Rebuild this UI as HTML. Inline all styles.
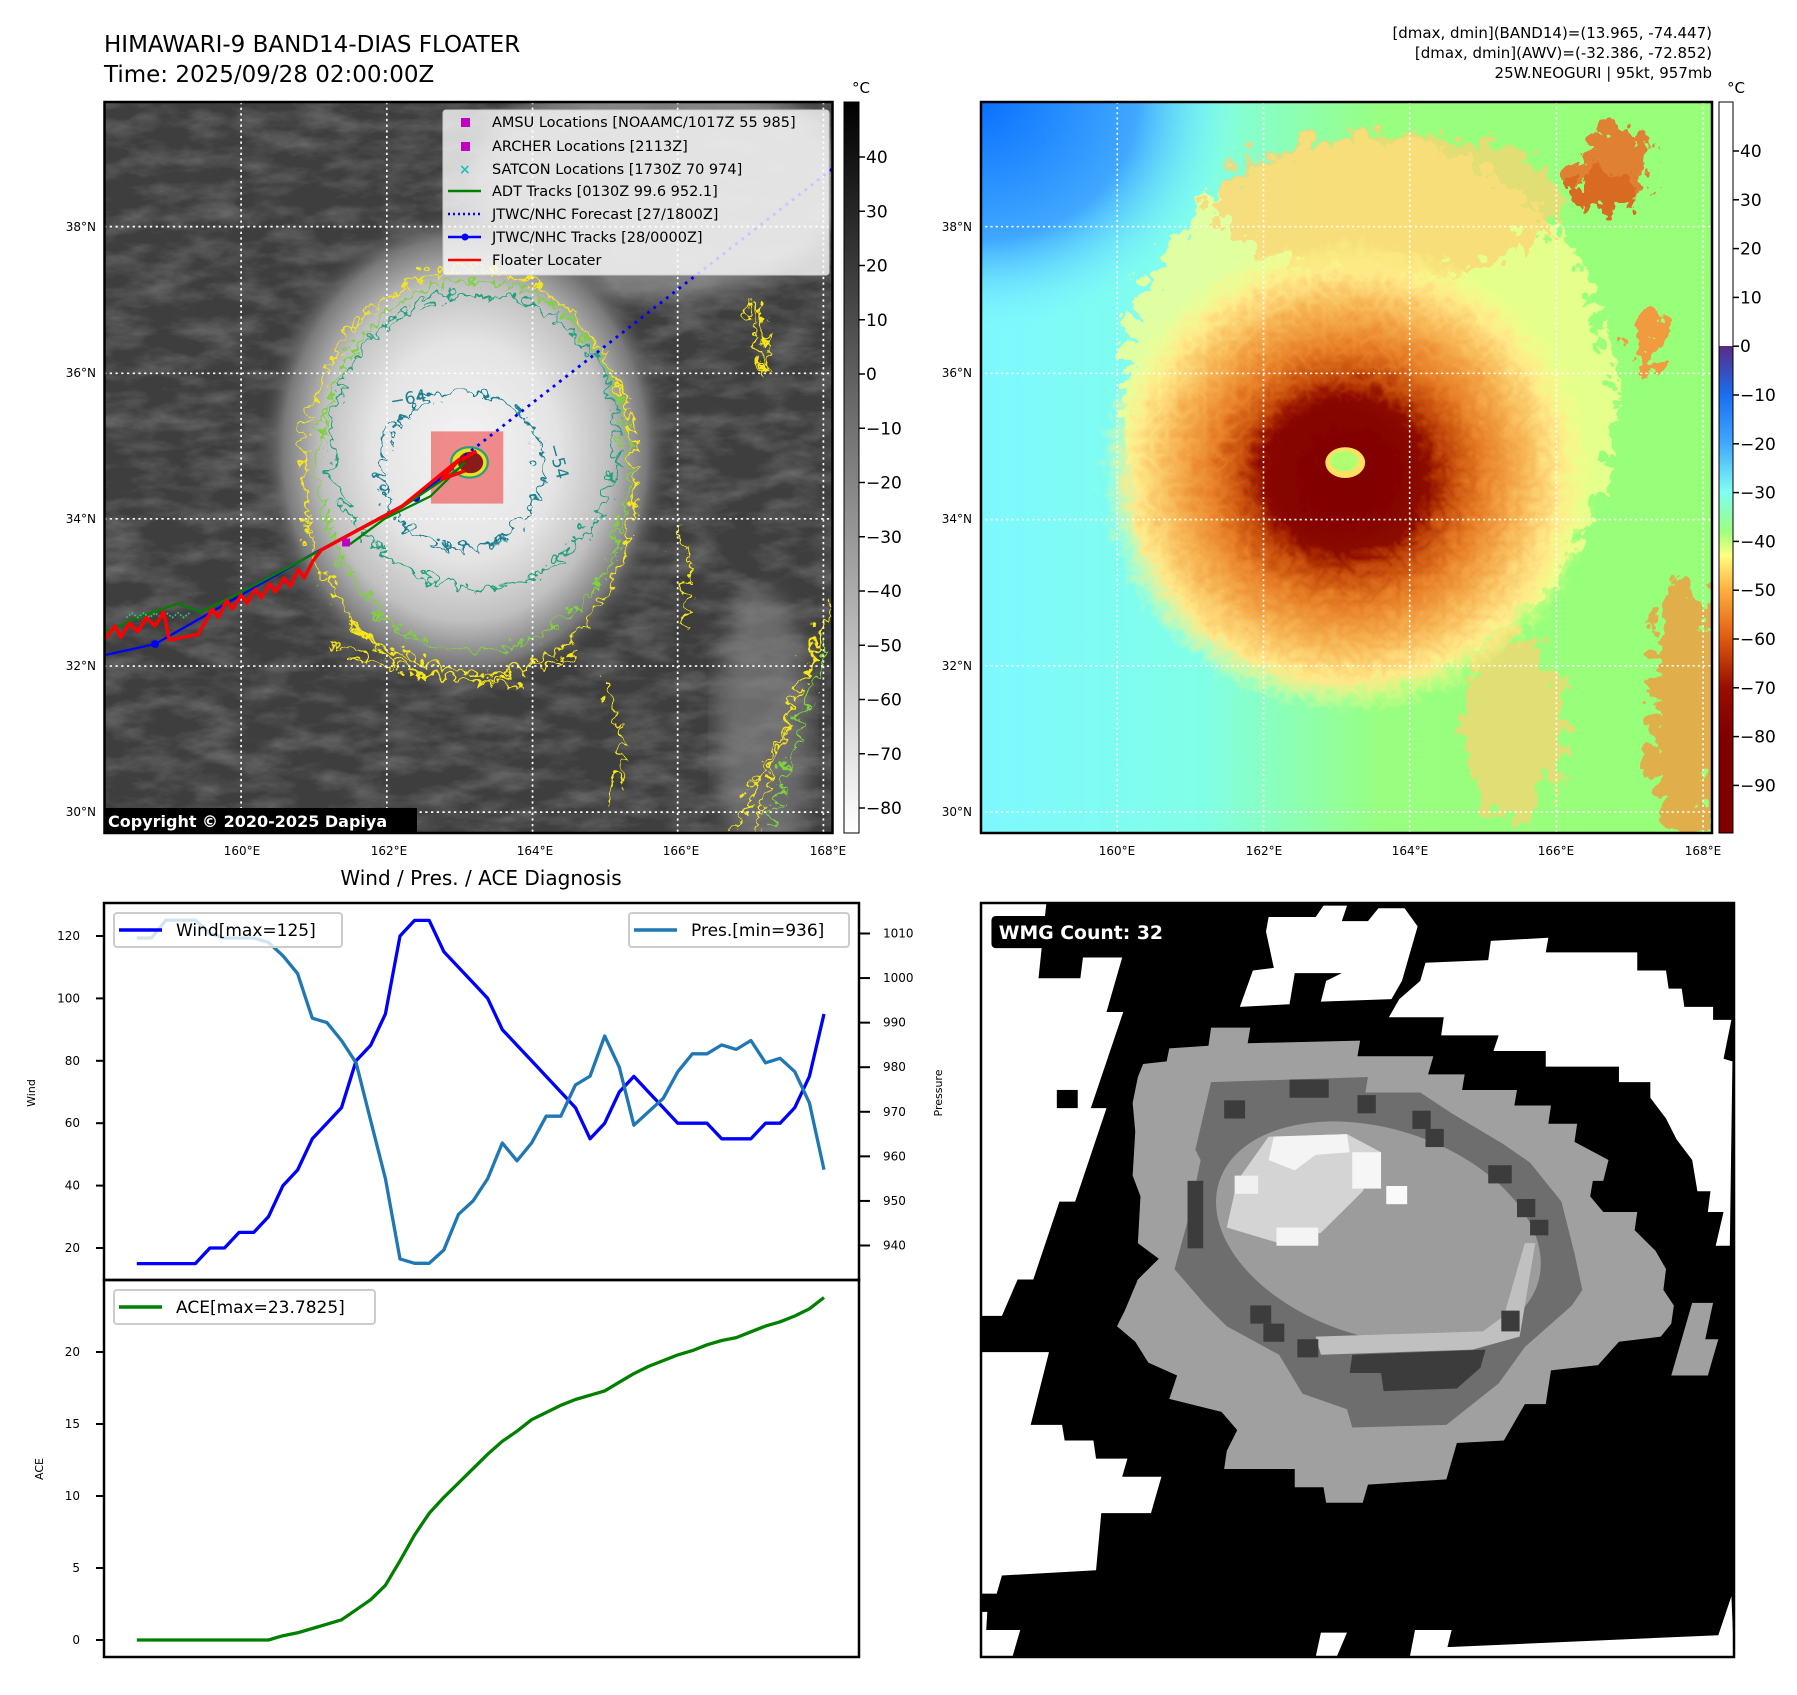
<!DOCTYPE html>
<html><head><meta charset="utf-8"><style>
html,body{margin:0;padding:0;background:#fff;}
svg text{font-family:"DejaVu Sans","Liberation Sans",sans-serif;}
</style></head><body>
<svg id="root" width="1797" height="1690" viewBox="0 0 1797 1690" xmlns="http://www.w3.org/2000/svg">
<defs>
<filter id="wig" x="-20%" y="-20%" width="140%" height="140%"><feTurbulence type="turbulence" baseFrequency="0.035" numOctaves="2" seed="4"/><feDisplacementMap in="SourceGraphic" scale="45" xChannelSelector="R" yChannelSelector="G"/></filter>
<filter id="wig2" x="-20%" y="-20%" width="140%" height="140%"><feTurbulence type="turbulence" baseFrequency="0.02" numOctaves="3" seed="9"/><feDisplacementMap in="SourceGraphic" scale="90" xChannelSelector="R" yChannelSelector="G"/></filter>
<filter id="noise" x="0" y="0" width="100%" height="100%"><feTurbulence type="fractalNoise" baseFrequency="0.012 0.03" numOctaves="4" seed="2"/><feColorMatrix type="matrix" values="0 0 0 0 1 0 0 0 0 1 0 0 0 0 1 1.2 0 0 0 -0.45"/></filter>
<filter id="blur8"><feGaussianBlur stdDeviation="18"/></filter>
<radialGradient id="cloud" cx="0.5" cy="0.5" r="0.5">
<stop offset="0" stop-color="#f4f4f4"/><stop offset="0.45" stop-color="#e4e4e4"/><stop offset="0.7" stop-color="#c0c0c0"/><stop offset="0.88" stop-color="#7a7a7a"/><stop offset="1" stop-color="#454545" stop-opacity="0"/></radialGradient>
<linearGradient id="bgR" x1="0" y1="0" x2="1" y2="0"><stop offset="0" stop-color="#7ef8ff"/><stop offset="0.3" stop-color="#80ffe8"/><stop offset="0.55" stop-color="#98ff80"/><stop offset="1" stop-color="#98ff78"/></linearGradient>
<radialGradient id="blueC" cx="0" cy="0" r="1"><stop offset="0" stop-color="#0a70ff"/><stop offset="0.6" stop-color="#40a8ff"/><stop offset="1" stop-color="#7ef8ff" stop-opacity="0"/></radialGradient>
<radialGradient id="storm" cx="0.5" cy="0.5" r="0.5">
<stop offset="0" stop-color="#7a0000"/><stop offset="0.32" stop-color="#8c0a00"/><stop offset="0.42" stop-color="#c44a08"/><stop offset="0.55" stop-color="#e88028"/><stop offset="0.7" stop-color="#f6b050"/><stop offset="0.86" stop-color="#ffe888"/><stop offset="1" stop-color="#ffff88" stop-opacity="0"/></radialGradient>
<linearGradient id="cbL" x1="0" y1="0" x2="0" y2="1"><stop offset="0" stop-color="#000"/><stop offset="1" stop-color="#fff"/></linearGradient>
<linearGradient id="cbR" x1="0" y1="0" x2="0" y2="1">
<stop offset="0" stop-color="#5b2a86"/><stop offset="0.1" stop-color="#1a6ef0"/><stop offset="0.2" stop-color="#40a8ff"/><stop offset="0.3" stop-color="#7ffff0"/><stop offset="0.38" stop-color="#9cff80"/><stop offset="0.43" stop-color="#ffff80"/><stop offset="0.5" stop-color="#ffb040"/><stop offset="0.6" stop-color="#e05a10"/><stop offset="0.7" stop-color="#9a0e00"/><stop offset="0.8" stop-color="#800000"/><stop offset="1" stop-color="#800000"/></linearGradient>
</defs>

<text x="104" y="52" font-size="23">HIMAWARI-9 BAND14-DIAS FLOATER</text>
<text x="104" y="82" font-size="23">Time: 2025/09/28 02:00:00Z</text>
<g font-size="15" text-anchor="end">
<text x="1712" y="38">[dmax, dmin](BAND14)=(13.965, -74.447)</text>
<text x="1712" y="58">[dmax, dmin](AWV)=(-32.386, -72.852)</text>
<text x="1712" y="78">25W.NEOGURI | 95kt, 957mb</text>
</g>

<!-- LEFT MAP -->
<svg x="104" y="102" width="728" height="731" viewBox="181 181 1269 1296" preserveAspectRatio="none">
<rect x="181" y="181" width="1269" height="1296" fill="#3e3e3e"/>
<rect x="181" y="181" width="1269" height="1296" filter="url(#noise)" opacity="0.35"/>
<ellipse cx="1150" cy="330" rx="330" ry="200" fill="#9a9a9a" opacity="0.7" filter="url(#blur8)"/>
<ellipse cx="1330" cy="1300" rx="80" ry="250" fill="#8a8a8a" opacity="0.6" filter="url(#blur8)"/>
<ellipse cx="810" cy="800" rx="360" ry="430" fill="url(#cloud)"/>
<g fill="none" stroke-width="4" filter="url(#wig)">
<ellipse cx="805" cy="830" rx="290" ry="365" stroke="#f5e61e"/>
<ellipse cx="815" cy="815" rx="270" ry="330" stroke="#7ed23c"/>
<ellipse cx="815" cy="770" rx="250" ry="260" stroke="#22a07e"/>
<ellipse cx="793" cy="822" rx="140" ry="140" stroke="#1d7e8e"/>
<path d="M600 1100 Q800 1230 1000 1150 M560 1130 Q720 1200 900 1200" stroke="#f5e61e"/>
<path d="M1440 1050 Q1380 1250 1260 1470 M1420 1100 Q1350 1300 1300 1470" stroke="#f5e61e"/>
<path d="M1430 1120 Q1380 1300 1330 1460" stroke="#7ed23c"/>
<path d="M1300 520 Q1340 580 1320 650 Q1300 580 1300 520Z" stroke="#f5e61e"/>
<path d="M1040 1200 Q1100 1300 1050 1420 M1170 920 Q1200 1000 1180 1100" stroke="#f5e61e"/>
</g>
<rect x="751" y="765" width="126" height="128" fill="#f06060" opacity="0.7"/>
<ellipse cx="818" cy="820" rx="32" ry="27" fill="#e8e020" stroke="#2aa07e" stroke-width="4"/>
<ellipse cx="820" cy="820" rx="22" ry="19" fill="#8b1a1a"/>
<g stroke="#fff" stroke-width="3" stroke-dasharray="4 6">
<line x1="420" y1="181" x2="420" y2="1477"/><line x1="674" y1="181" x2="674" y2="1477"/><line x1="928" y1="181" x2="928" y2="1477"/><line x1="1181" y1="181" x2="1181" y2="1477"/><line x1="1435" y1="181" x2="1435" y2="1477"/>
<line x1="181" y1="402" x2="1450" y2="402"/><line x1="181" y1="662" x2="1450" y2="662"/><line x1="181" y1="920" x2="1450" y2="920"/><line x1="181" y1="1181" x2="1450" y2="1181"/><line x1="181" y1="1440" x2="1450" y2="1440"/>
</g>
<path d="M810 808 L1450 300" stroke="#0000ff" stroke-width="5" stroke-dasharray="5 9" fill="none"/>
<path d="M181 1162 L270 1142 L360 1090 L540 985 L725 883 L790 830" stroke="#0000ff" stroke-width="4" fill="none"/>
<circle cx="270" cy="1142" r="7" fill="#0000ff"/><circle cx="725" cy="883" r="7" fill="#0000ff"/>
<path d="M181 1122 L240 1095 L310 1070 L350 1085 L420 1050 L560 975 L700 900 L780 845 L800 830 M610 965 L670 920 L750 880 L810 820" stroke="#008000" stroke-width="4" fill="none"/>
<path d="M220 1095 l10 -8 l10 8 l10 -8 l10 8 l10 -8 l10 8 l10 -8 l10 8 l10 -8 l10 8 l10 -8" stroke="#2bc48a" stroke-width="3" stroke-dasharray="3 3" fill="none"/>
<path d="M181 1135 L200 1110 L210 1130 L225 1105 L240 1120 L255 1095 L270 1110 L285 1085 L295 1135 L345 1125 L370 1080 L380 1095 L395 1065 L405 1080 L420 1055 L430 1070 L445 1045 L455 1060 L470 1035 L480 1050 L495 1025 L505 1040 L520 1010 L530 1025 L545 995 L560 975 L700 898 L800 815 L770 850 L810 835 M805 815 L830 800" stroke="#ff0000" stroke-width="6" fill="none" stroke-linejoin="round"/>
<rect x="596" y="955" width="14" height="14" fill="#c000c0"/>
<g fill="#1d7e8e" font-size="30"><text x="682" y="722" transform="rotate(-10 682 722)">−64</text><text x="955" y="790" transform="rotate(75 955 790)">−54</text></g>
</svg>
<rect x="104.5" y="102" width="728" height="731" fill="none" stroke="#000" stroke-width="2.5"/>

<g font-size="14.5">
<rect x="443" y="110" width="386" height="165" rx="3" fill="#fff" fill-opacity="0.78" stroke="#ccc"/>
<rect x="461" y="118" width="9" height="9" fill="#c000c0"/><text x="492" y="127">AMSU Locations [NOAAMC/1017Z 55 985]</text>
<rect x="461" y="142" width="9" height="9" fill="#c000c0"/><text x="492" y="151">ARCHER Locations [2113Z]</text>
<text x="459" y="174" fill="#1fc0c0" font-size="14" font-weight="bold">×</text><text x="492" y="174">SATCON Locations [1730Z 70 974]</text>
<line x1="448" y1="191" x2="481" y2="191" stroke="#008000" stroke-width="2.5"/><text x="492" y="196">ADT Tracks [0130Z 99.6 952.1]</text>
<line x1="448" y1="214" x2="481" y2="214" stroke="#0000ff" stroke-width="2.5" stroke-dasharray="2 3"/><text x="492" y="219">JTWC/NHC Forecast [27/1800Z]</text>
<line x1="448" y1="237" x2="481" y2="237" stroke="#0000ff" stroke-width="2.5"/><circle cx="465" cy="237" r="3.5" fill="#0000ff"/><text x="492" y="242">JTWC/NHC Tracks [28/0000Z]</text>
<line x1="448" y1="260" x2="481" y2="260" stroke="#ff0000" stroke-width="2.5"/><text x="492" y="265">Floater Locater</text>
</g>
<g><rect x="104" y="808" width="313" height="25" fill="#000"/><text x="108" y="827" font-size="16" font-weight="bold" fill="#fff">Copyright © 2020-2025 Dapiya</text></g>

<g font-size="12" text-anchor="end">
<text x="96" y="231">38°N</text><text x="96" y="377">36°N</text><text x="96" y="523">34°N</text><text x="96" y="670">32°N</text><text x="96" y="816">30°N</text></g>
<g font-size="12" text-anchor="middle">
<text x="242" y="855">160°E</text><text x="389" y="855">162°E</text><text x="535" y="855">164°E</text><text x="681" y="855">166°E</text><text x="828" y="855">168°E</text></g>

<rect x="844" y="102" width="15" height="731" fill="url(#cbL)" stroke="#000" stroke-width="1"/>
<text x="852" y="93" font-size="15">°C</text>
<g id="cbLticks" font-size="17"></g>

<!-- RIGHT MAP -->
<svg x="980" y="102" width="732" height="731" viewBox="0 82 1397 1425" preserveAspectRatio="none">
<rect x="0" y="82" width="1397" height="1425" fill="url(#bgR)"/>
<rect x="0" y="82" width="500" height="450" fill="url(#blueC)"/>
<g filter="url(#wig2)">
<ellipse cx="720" cy="650" rx="470" ry="520" fill="#f8ff90" opacity="0.8"/>
<ellipse cx="760" cy="260" rx="330" ry="140" fill="#ffd070" opacity="0.7"/>
<ellipse cx="1330" cy="1250" rx="70" ry="260" fill="#f29a40" opacity="0.8"/>
<ellipse cx="1190" cy="180" rx="70" ry="70" fill="#e08030"/>
<ellipse cx="1170" cy="240" rx="60" ry="40" fill="#d86a20"/>
<ellipse cx="1260" cy="530" rx="28" ry="65" fill="#f29a40"/>
<ellipse cx="1000" cy="1280" rx="100" ry="180" fill="#ffd070" opacity="0.7"/>
</g>
<ellipse cx="690" cy="800" rx="470" ry="460" fill="url(#storm)" filter="url(#wig)"/>
<ellipse cx="680" cy="800" rx="150" ry="145" fill="#850400" opacity="0.6" filter="url(#blur8)"/>
<ellipse cx="697" cy="785" rx="38" ry="30" fill="#ffe060"/>
<ellipse cx="695" cy="782" rx="27" ry="20" fill="#b0ff70"/>
<g stroke="#fff" stroke-width="3" stroke-dasharray="4 6">
<line x1="262" y1="82" x2="262" y2="1507"/><line x1="541" y1="82" x2="541" y2="1507"/><line x1="820" y1="82" x2="820" y2="1507"/><line x1="1100" y1="82" x2="1100" y2="1507"/><line x1="1380" y1="82" x2="1380" y2="1507"/>
<line x1="0" y1="325" x2="1397" y2="325"/><line x1="0" y1="611" x2="1397" y2="611"/><line x1="0" y1="896" x2="1397" y2="896"/><line x1="0" y1="1181" x2="1397" y2="1181"/><line x1="0" y1="1466" x2="1397" y2="1466"/>
</g>
</svg>
<rect x="981" y="102" width="731" height="731" fill="none" stroke="#000" stroke-width="2.5"/>
<g font-size="12" text-anchor="end">
<text x="972" y="231">38°N</text><text x="972" y="377">36°N</text><text x="972" y="523">34°N</text><text x="972" y="670">32°N</text><text x="972" y="816">30°N</text></g>
<g font-size="12" text-anchor="middle">
<text x="1117" y="855">160°E</text><text x="1264" y="855">162°E</text><text x="1410" y="855">164°E</text><text x="1556" y="855">166°E</text><text x="1703" y="855">168°E</text></g>
<rect x="1719" y="102" width="14" height="244" fill="#fff"/>
<rect x="1719" y="346" width="14" height="487" fill="url(#cbR)"/>
<rect x="1719" y="102" width="14" height="731" fill="none" stroke="#000" stroke-width="1"/>
<text x="1727" y="93" font-size="15">°C</text>
<g id="cbRticks" font-size="17"></g>

<!-- WMG -->
<svg x="981" y="903" width="753" height="754" viewBox="0 45 1440 1452" preserveAspectRatio="none">
<rect x="0" y="45" width="1440" height="1452" fill="#000"/>
<g fill="#fff">
<polygon points="0,45 125,45 110,190 190,190 195,150 270,150 240,255 272,255 210,440 240,440 180,620 150,620 100,770 70,770 40,840 0,840"/>
<polygon points="0,910 130,910 95,1050 155,1050 160,1080 215,1080 220,1115 280,1115 270,1150 345,1150 325,1220 230,1220 220,1330 40,1340 30,1375 0,1375"/>
<polygon points="550,72 640,72 655,50 700,50 690,80 740,80 760,55 810,55 835,90 805,195 785,230 650,235 660,195 690,180 600,180 590,240 495,245 520,175 560,170 545,100"/>
<polygon points="850,160 970,155 975,118 1085,112 1080,140 1255,140 1255,175 1310,175 1315,210 1340,210 1345,245 1400,245 1400,270 1435,270 1420,345 1437,350 1432,705 1405,705 1420,640 1390,640 1395,600 1370,600 1360,540 1330,500 1310,460 1280,420 1280,390 1220,390 1220,360 1080,360 1080,330 980,330 990,300 880,300 885,265 780,265 800,230 840,195"/>
<polygon points="0,1410 12,1410 10,1445 75,1445 60,1497 0,1497"/>
<polygon points="650,1450 700,1450 680,1497 640,1497"/>
<polygon points="830,1445 900,1445 892,1478 1410,1455 1435,1380 1440,1497 820,1497"/>
<rect x="145" y="405" width="40" height="35" fill="#000"/>
</g>
<polygon fill="#a0a0a0" points="440,285 515,285 510,315 725,310 720,340 865,340 855,375 925,375 920,405 1025,405 1020,435 1090,435 1085,470 1140,470 1135,505 1200,540 1190,580 1170,580 1165,610 1190,640 1255,640 1250,675 1290,715 1310,750 1305,790 1325,820 1320,855 1300,880 1220,890 1180,935 1090,945 1080,1010 1040,1010 1000,1080 910,1085 890,1155 740,1165 730,1200 660,1200 655,1170 600,1170 600,1135 465,1135 470,1100 490,1060 460,1025 360,1000 375,955 320,930 295,890 260,860 275,830 300,770 340,730 300,700 305,610 290,570 295,485 290,430 300,380 310,355 355,350 360,325 435,320"/>
<polygon fill="#a0a0a0" points="1360,815 1400,815 1385,885 1410,885 1390,955 1320,955"/>
<polygon fill="#6e6e6e" points="440,390 740,380 735,410 840,410 900,450 1000,510 1050,545 1110,620 1135,720 1150,790 1130,820 1040,900 990,970 890,1050 710,1055 700,1020 615,990 570,915 470,860 430,820 370,750 400,640 420,540 410,520"/>
<ellipse cx="760" cy="680" rx="320" ry="200" transform="rotate(18 760 680)" fill="#9c9c9c"/>
<polygon fill="#d4d4d4" points="550,495 700,490 765,525 730,600 650,680 570,700 470,670 490,580"/>
<polygon fill="#c0c0c0" points="640,880 960,870 1000,840 1040,700 1060,700 1030,880 940,905 650,915"/>
<polygon fill="#f4f4f4" points="560,495 700,490 705,525 640,530 600,560 550,540"/>
<rect x="710" y="525" width="55" height="70" fill="#f6f6f6"/>
<rect x="775" y="590" width="40" height="35" fill="#fafafa"/>
<rect x="485" y="570" width="45" height="35" fill="#f0f0f0"/>
<rect x="565" y="670" width="80" height="35" fill="#f4f4f4"/>
<g fill="#3c3c3c">
<rect x="590" y="385" width="75" height="35"/><rect x="465" y="425" width="40" height="35"/><rect x="720" y="415" width="35" height="35"/><rect x="825" y="445" width="35" height="35"/><rect x="850" y="480" width="35" height="35"/><rect x="970" y="550" width="45" height="35"/><rect x="1025" y="615" width="35" height="35"/><rect x="1050" y="655" width="35" height="30"/><rect x="995" y="830" width="35" height="40"/><rect x="515" y="820" width="40" height="35"/><rect x="540" y="855" width="40" height="35"/><rect x="605" y="885" width="40" height="35"/><rect x="395" y="580" width="30" height="130"/>
<polygon points="710,915 965,905 955,940 910,980 770,985 765,950 705,950"/>
</g>
<rect x="20" y="70" width="370" height="62" rx="8" fill="#000"/>
<text x="34" y="114" font-size="36" font-weight="bold" fill="#fff">WMG Count: 32</text>
</svg>
<rect x="981" y="903" width="753" height="754" fill="none" stroke="#000" stroke-width="2.5"/>

<text x="481" y="885" font-size="20" text-anchor="middle">Wind / Pres. / ACE Diagnosis</text>
<g id="chart"></g>
</svg>
<script>
const windValues=[15,15,15,15,15,20,20,25,25,30,40,45,55,60,65,80,85,95,120,125,125,115,110,105,100,90,85,80,75,70,65,55,60,70,75,70,65,60,60,60,55,55,55,60,60,65,75,95];
const presValues=[1009,1009,1013,1013,1013,1010,1009,1009,1009,1008,1005,1001,991,990,986,981,968,955,937,936,936,939,947,950,955,963,959,963,969,969,976,978,987,980,967,970,973,979,983,983,985,984,986,981,982,979,972,957];
const aceValues=[0,0,0,0,0,0,0,0,0,0,0.3,0.5,0.8,1.1,1.4,2.1,2.8,3.8,5.5,7.3,8.8,9.9,10.9,11.9,12.9,13.8,14.5,15.3,15.8,16.3,16.7,17.0,17.3,17.9,18.5,19.0,19.4,19.8,20.1,20.5,20.8,21.0,21.4,21.8,22.1,22.5,23.0,23.7825];
const windTicks=[20,40,60,80,100,120];
const presTicks=[940,950,960,970,980,990,1000,1010];
const aceTicks=[0,5,10,15,20];
const irTicks=[40,30,20,10,0,-10,-20,-30,-40,-50,-60,-70,-80];
const awvTicks=[40,30,20,10,0,-10,-20,-30,-40,-50,-60,-70,-80,-90];
const NS='http://www.w3.org/2000/svg';
function mk(tag,attrs,parent){const e=document.createElementNS(NS,tag);for(const k in attrs)e.setAttribute(k,attrs[k]);parent.appendChild(e);return e;}
const xS=i=>136.8+i*(824-136.8)/(windValues.length-1);
const yW=v=>936+(120-v)*3.12;
const yP=p=>933.5+(1010-p)*(312/70);
const yA=a=>1640-a*14.4;
const ch=document.getElementById('chart');
function tickText(x,y,str,anchor,size,parent){const t=mk('text',{x:x,y:y,'font-size':size,'text-anchor':anchor},parent);t.textContent=str;return t;}
let b1=mk('rect',{x:104,y:903,width:755,height:377,fill:'none',stroke:'#000','stroke-width':2.5},ch);


let b2=mk('rect',{x:104,y:1280,width:755,height:377,fill:'none',stroke:'#000','stroke-width':2.5},ch);


windTicks.forEach(v=>{mk('line',{x1:96,x2:104,y1:yW(v),y2:yW(v),stroke:'#000','stroke-width':2},ch);const t=tickText(80,yW(v)+4,String(v),'end',12,ch);});
presTicks.forEach(v=>{mk('line',{x1:859,x2:870,y1:yP(v),y2:yP(v),stroke:'#000','stroke-width':2},ch);const t=tickText(883,yP(v)+4,String(v),'start',12,ch);});
aceTicks.forEach(v=>{mk('line',{x1:96,x2:104,y1:yA(v),y2:yA(v),stroke:'#000','stroke-width':2},ch);const t=tickText(80,yA(v)+4,String(v),'end',12,ch);});
let wl=tickText(0,0,'Wind','middle',11,ch);wl.setAttribute('transform','translate(35 1093) rotate(-90)');


let pl=tickText(0,0,'Pressure','middle',11,ch);pl.setAttribute('transform','translate(942 1093) rotate(-90)');


let al=tickText(0,0,'ACE','middle',11,ch);al.setAttribute('transform','translate(43 1469) rotate(-90)');


function line(vals,yf,color,name){const d=vals.map((v,i)=>(i?'L':'M')+xS(i).toFixed(1)+' '+yf(v).toFixed(1)).join(' ');const p=mk('path',{d:d,fill:'none',stroke:color,'stroke-width':3.3,'stroke-linejoin':'round'},ch);}
line(windValues,yW,'#0000ff','wind-line');
line(presValues,yP,'#1f77b4','pressure-line');
line(aceValues,yA,'#008000','ace-line');
function legend(x,y,w,color,label,name){const g=mk('g',{},ch);mk('rect',{x:x,y:y,width:w,height:34,rx:3,fill:'#fff','fill-opacity':0.8,stroke:'#ccc','stroke-width':2},g);mk('line',{x1:x+5,x2:x+48,y1:y+17,y2:y+17,stroke:color,'stroke-width':3.5},g);tickText(x+62,y+23,label,'start',17,g);}
legend(114,913,228,'#0000ff','Wind[max='+Math.max(...windValues)+']','wind-legend');
legend(629,913,220,'#1f77b4','Pres.[min='+Math.min(...presValues)+']','pressure-legend');
legend(114,1290,261,'#008000','ACE[max='+Math.max(...aceValues)+']','ace-legend');
const cl=document.getElementById('cbLticks');
irTicks.forEach(v=>{const y=157+(40-v)*5.425;mk('line',{x1:859,x2:865,y1:y,y2:y,stroke:'#000','stroke-width':1.5},cl);const t=tickText(866,y+6,String(v).replace('-','−'),'start',17,cl);});
const cr=document.getElementById('cbRticks');
awvTicks.forEach(v=>{const y=151+(40-v)*4.88;mk('line',{x1:1733,x2:1739,y1:y,y2:y,stroke:'#000','stroke-width':1.5},cr);const t=tickText(1740,y+6,String(v).replace('-','−'),'start',17,cr);});
</script>
</body></html>
